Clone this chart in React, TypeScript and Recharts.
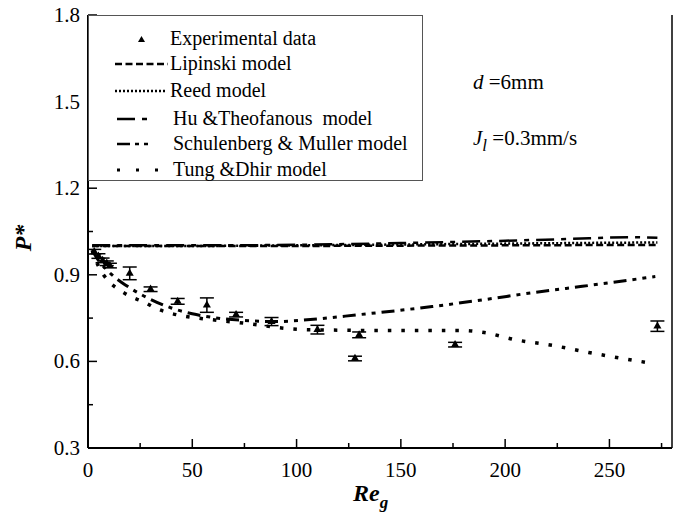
import React from 'react';
import {
  ComposedChart,
  Line,
  Scatter,
  ErrorBar,
  XAxis,
  YAxis,
  ZAxis,
  Legend,
  ReferenceLine,
} from 'recharts';

const FONT = 'Liberation Serif, DejaVu Serif, serif';

// tick values (major + minor)
const xTicks = [0, 25, 50, 75, 100, 125, 150, 175, 200, 225, 250, 275];
const xMajor = [0, 50, 100, 150, 200, 250];
const yTicks = [0.3, 0.45, 0.6, 0.75, 0.9, 1.05, 1.2, 1.35, 1.5, 1.65, 1.8];
const yMajor = [0.3, 0.6, 0.9, 1.2, 1.5, 1.8];

// experimental data
const expX = [3, 5, 7, 9, 10.5, 20, 30, 43, 57, 71, 88, 110, 128, 130, 176, 273];
const expY = [0.98, 0.965, 0.95, 0.94, 0.932, 0.905, 0.85, 0.808, 0.795, 0.762, 0.738, 0.71, 0.61, 0.692, 0.658, 0.722];
const expErr = [0.008, 0.008, 0.008, 0.008, 0.008, 0.022, 0.008, 0.01, 0.025, 0.008, 0.014, 0.015, 0.008, 0.01, 0.008, 0.018];

// model curves
const lipX = [2, 50, 100, 150, 200, 250, 273];
const lipY = [1.0, 1.0, 1.0, 1.001, 1.002, 1.003, 1.003];
const reedX = [2, 50, 100, 150, 200, 250, 273];
const reedY = [1.0, 1.0, 1.002, 1.005, 1.008, 1.011, 1.012];
const huX = [2, 50, 100, 150, 200, 230, 260, 273];
const huY = [1.002, 1.002, 1.004, 1.01, 1.018, 1.024, 1.03, 1.028];
const schX = [2, 5, 10, 20, 30, 40, 50, 60, 75, 90, 105, 130, 165, 190, 213, 237, 272];
const schY = [0.985, 0.95, 0.91, 0.855, 0.815, 0.785, 0.765, 0.752, 0.742, 0.738, 0.744, 0.762, 0.79, 0.814, 0.838, 0.86, 0.894];
const tungX = [2, 5, 10, 15, 20, 27, 32, 38, 45, 55, 65, 80, 90, 105, 145, 180, 190, 205, 223, 240, 268];
const tungY = [0.985, 0.93, 0.877, 0.848, 0.826, 0.805, 0.786, 0.77, 0.758, 0.748, 0.74, 0.728, 0.718, 0.71, 0.707, 0.707, 0.7, 0.675, 0.655, 0.631, 0.596];

const zip = (xs: number[], ys: number[]) => xs.map((x, i) => ({ x, y: ys[i] }));

const expData = expX.map((x, i) => ({ x, y: expY[i], err: expErr[i] }));
const lipData = zip(lipX, lipY);
const reedData = zip(reedX, reedY);
const huData = zip(huX, huY);
const schData = zip(schX, schY);
const tungData = zip(tungX, tungY);

const isIn = (arr: number[], v: number) => arr.some(a => Math.abs(a - v) < 1e-6);

const YTick = (props: any) => {
  const { x, y, payload } = props;
  const major = isIn(yMajor, payload.value);
  return (
    <g>
      <line x1={x} x2={x + (major ? 9 : 5)} y1={y} y2={y} stroke="#000" strokeWidth={1.5} />
      {major && (
        <text x={x - 8} y={y} dy={7} textAnchor="end" style={{ fontFamily: FONT }} fontSize={21} fill="#000">
          {Number(payload.value).toFixed(1)}
        </text>
      )}
    </g>
  );
};

const XTick = (props: any) => {
  const { x, y, payload } = props;
  const major = isIn(xMajor, payload.value);
  return (
    <g>
      <line x1={x} x2={x} y1={y} y2={y - (major ? 9 : 5)} stroke="#000" strokeWidth={1.5} />
      {major && (
        <text x={x} y={y + 29} textAnchor="middle" style={{ fontFamily: FONT }} fontSize={21} fill="#000">
          {payload.value}
        </text>
      )}
    </g>
  );
};

const legendRows = [
  { name: 'Experimental data', kind: 'tri', y: 30, tx: 82 },
  { name: 'Lipinski model', dash: '7 3.5', x1: 27, x2: 80, y: 55, tx: 82 },
  { name: 'Reed model', dash: '2 2', x1: 27, x2: 78, y: 82, tx: 82 },
  { name: 'Hu &Theofanous  model', dash: '18 7 5 40', x1: 29, x2: 60, y: 110, tx: 85 },
  { name: 'Schulenberg & Muller model', dash: '13 5 4 5 4 40', x1: 29, x2: 70, y: 135, tx: 85 },
  { name: 'Tung &Dhir model', dash: '3 16', x1: 29, x2: 70, y: 161, tx: 85 },
];

const LegendBox = () => (
  <svg width={335} height={166} style={{ display: 'block' }}>
    <rect x={0.5} y={0.5} width={334} height={165} fill="#fff" stroke="#555" strokeWidth={1} />
    {legendRows.map(r => (
      <g key={r.name}>
        {r.kind === 'tri' ? (
          <polygon points="50.5,8 54,14 47,14" transform={`translate(3, ${r.y - 17})`} fill="#000" />
        ) : (
          <line
            x1={r.x1}
            x2={r.x2}
            y1={r.y - 6}
            y2={r.y - 6}
            stroke="#000"
            strokeWidth={r.name.startsWith('Tung') ? 3 : 2.5}
            strokeDasharray={r.dash}
          />
        )}
        <text x={r.tx} y={r.y} style={{ fontFamily: FONT, whiteSpace: 'pre' }} fontSize={20} fill="#000">
          {r.name}
        </text>
      </g>
    ))}
  </svg>
);

export default function App() {
  return (
    // overflow hidden so the page never grows a scrollbar that hides the right edge
    <div style={{ position: 'absolute', left: 0, top: 0, width: 679, height: 515, overflow: 'hidden', background: '#fff', fontFamily: FONT }}>
      <ComposedChart width={679} height={515} margin={{ top: 15, right: 7, left: 0, bottom: 0 }}>
        <XAxis
          type="number"
          dataKey="x"
          domain={[0, 280]}
          ticks={xTicks}
          interval={0}
          height={67}
          tickSize={0}
          tickMargin={0}
          tick={<XTick />}
          axisLine={{ stroke: '#000', strokeWidth: 2 }}
          allowDataOverflow
        />
        <XAxis xAxisId="top" orientation="top" type="number" domain={[0, 280]} height={0} tick={false} axisLine={{ stroke: '#000', strokeWidth: 2 }} />
        <YAxis
          type="number"
          dataKey="y"
          domain={[0.3, 1.8]}
          ticks={yTicks}
          interval={0}
          width={88}
          tickSize={0}
          tickMargin={0}
          tick={<YTick />}
          axisLine={{ stroke: '#000', strokeWidth: 2 }}
          allowDataOverflow
        />
        <ZAxis range={[28, 28]} />
        <ReferenceLine x={280} stroke="#000" strokeWidth={1.5} ifOverflow="visible" />
        <Line data={lipData} dataKey="y" type="monotone" stroke="#000" strokeWidth={2.5} strokeDasharray="7 3.5" dot={false} isAnimationActive={false} />
        <Line data={reedData} dataKey="y" type="monotone" stroke="#000" strokeWidth={2.5} strokeDasharray="2 2" dot={false} isAnimationActive={false} />
        <Line data={huData} dataKey="y" type="monotone" stroke="#000" strokeWidth={2.5} strokeDasharray="18 7 5 7" dot={false} isAnimationActive={false} />
        <Line data={schData} dataKey="y" type="monotone" stroke="#000" strokeWidth={3} strokeDasharray="13 6 4 6 4 6" dot={false} isAnimationActive={false} />
        <Line data={tungData} dataKey="y" type="monotone" stroke="#000" strokeWidth={3.5} strokeDasharray="3.5 10" dot={false} isAnimationActive={false} />
        <Scatter data={expData} dataKey="y" shape="triangle" fill="#000" isAnimationActive={false}>
          <ErrorBar dataKey="err" direction="y" width={7} stroke="#000" strokeWidth={1.5} isAnimationActive={false} />
        </Scatter>
        <Legend
          layout="horizontal"
          verticalAlign="middle"
          align="center"
          wrapperStyle={{ position: 'absolute', left: 88, top: 15, width: 335, height: 166 }}
          content={() => <LegendBox />}
        />
        <text x={473} y={89} style={{ fontFamily: FONT }} fontSize={21} fill="#000">
          <tspan fontStyle="italic">d</tspan>
          <tspan> =6mm</tspan>
        </text>
        <text x={473} y={145} style={{ fontFamily: FONT }} fontSize={21} fill="#000">
          <tspan fontStyle="italic">J</tspan>
          <tspan fontStyle="italic" fontSize={17} dy={6}>l</tspan>
          <tspan dy={-6}> =0.3mm/s</tspan>
        </text>
        <text x={353} y={501} style={{ fontFamily: FONT }} fontSize={24} fontWeight="bold" fontStyle="italic" fill="#000">
          Re
          <tspan fontSize={17} dy={7}>g</tspan>
        </text>
        <text
          x={0}
          y={0}
          transform="translate(31, 238) rotate(-90)"
          textAnchor="middle"
          style={{ fontFamily: FONT }}
          fontSize={24}
          fontWeight="bold"
          fontStyle="italic"
          fill="#000"
        >
          P*
        </text>
      </ComposedChart>
    </div>
  );
}
